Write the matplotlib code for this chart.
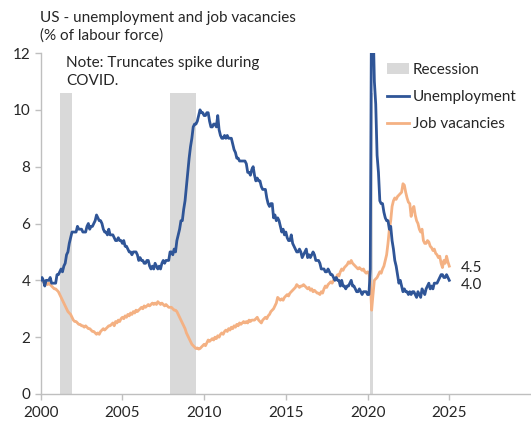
import numpy as np
import matplotlib
matplotlib.use("Agg")
import matplotlib.pyplot as plt
from matplotlib.patches import Patch
from matplotlib.lines import Line2D

plt.rcParams['font.family'] = ['Lato', 'DejaVu Sans']

# monthly data, Jan 2000 - Jan 2025
unemployment = [
    4.0, 4.1, 4.0, 3.8, 4.0, 4.0, 4.0, 4.1, 3.9, 3.9, 3.9, 3.9,   # 2000
    4.2, 4.2, 4.3, 4.4, 4.3, 4.5, 4.6, 4.9, 5.0, 5.3, 5.5, 5.7,   # 2001
    5.7, 5.7, 5.7, 5.9, 5.8, 5.8, 5.8, 5.7, 5.7, 5.7, 5.9, 6.0,   # 2002
    5.8, 5.9, 5.9, 6.0, 6.1, 6.3, 6.2, 6.1, 6.1, 6.0, 5.8, 5.7,   # 2003
    5.7, 5.6, 5.8, 5.6, 5.6, 5.6, 5.5, 5.4, 5.4, 5.5, 5.4, 5.4,   # 2004
    5.3, 5.4, 5.2, 5.2, 5.1, 5.0, 5.0, 4.9, 5.0, 5.0, 5.0, 4.9,   # 2005
    4.7, 4.8, 4.7, 4.7, 4.6, 4.6, 4.7, 4.7, 4.5, 4.4, 4.5, 4.4,   # 2006
    4.6, 4.5, 4.4, 4.5, 4.4, 4.6, 4.7, 4.6, 4.7, 4.7, 4.7, 5.0,   # 2007
    5.0, 4.9, 5.1, 5.0, 5.4, 5.6, 5.8, 6.1, 6.1, 6.5, 6.8, 7.3,   # 2008
    7.8, 8.3, 8.7, 9.0, 9.4, 9.5, 9.5, 9.6, 9.8, 10.0, 9.9, 9.9,  # 2009
    9.8, 9.8, 9.9, 9.9, 9.6, 9.4, 9.4, 9.5, 9.5, 9.4, 9.8, 9.3,   # 2010
    9.1, 9.0, 9.0, 9.1, 9.0, 9.1, 9.0, 9.0, 9.0, 8.8, 8.6, 8.5,   # 2011
    8.3, 8.3, 8.2, 8.2, 8.2, 8.2, 8.2, 8.1, 7.8, 7.8, 7.7, 7.9,   # 2012
    8.0, 7.7, 7.5, 7.6, 7.5, 7.5, 7.3, 7.2, 7.2, 7.2, 6.9, 6.7,   # 2013
    6.6, 6.7, 6.7, 6.2, 6.3, 6.1, 6.2, 6.1, 5.9, 5.7, 5.8, 5.6,   # 2014
    5.7, 5.5, 5.4, 5.4, 5.6, 5.3, 5.2, 5.1, 5.0, 5.0, 5.1, 5.0,   # 2015
    4.8, 4.9, 5.0, 5.1, 4.8, 4.9, 4.8, 4.9, 5.0, 4.9, 4.7, 4.7,   # 2016
    4.7, 4.6, 4.4, 4.4, 4.4, 4.3, 4.3, 4.4, 4.3, 4.2, 4.2, 4.1,   # 2017
    4.0, 4.1, 4.0, 4.0, 3.8, 4.0, 3.8, 3.8, 3.7, 3.8, 3.8, 3.9,   # 2018
    4.0, 3.8, 3.8, 3.7, 3.6, 3.6, 3.7, 3.6, 3.5, 3.6, 3.6, 3.6,   # 2019
    3.5, 3.5, 4.4, 14.8, 13.2, 11.0, 10.2, 8.4, 7.8, 6.8, 6.7, 6.7,  # 2020
    6.4, 6.2, 6.1, 6.1, 5.8, 5.9, 5.4, 5.1, 4.7, 4.5, 4.2, 3.9,   # 2021
    4.0, 3.8, 3.6, 3.7, 3.6, 3.6, 3.5, 3.6, 3.5, 3.6, 3.6, 3.5,   # 2022
    3.4, 3.6, 3.5, 3.4, 3.7, 3.6, 3.5, 3.7, 3.8, 3.9, 3.7, 3.8,   # 2023
    3.7, 3.9, 3.9, 3.9, 4.0, 4.1, 4.2, 4.2, 4.1, 4.1, 4.2, 4.1,   # 2024
    4.0,                                                          # 2025
]

vacancies = [
    4.0, 4.0, 3.95, 3.9, 3.9, 3.85, 3.9, 3.85, 3.8, 3.75, 3.7, 3.7,      # 2000
    3.65, 3.6, 3.5, 3.4, 3.3, 3.2, 3.1, 3.0, 2.9, 2.85, 2.8, 2.7,        # 2001
    2.6, 2.55, 2.55, 2.5, 2.45, 2.45, 2.4, 2.4, 2.35, 2.4, 2.35, 2.3,    # 2002
    2.3, 2.25, 2.2, 2.2, 2.15, 2.1, 2.15, 2.1, 2.2, 2.25, 2.3, 2.25,     # 2003
    2.3, 2.35, 2.4, 2.4, 2.45, 2.5, 2.4, 2.55, 2.5, 2.6, 2.55, 2.65,     # 2004
    2.7, 2.65, 2.75, 2.7, 2.8, 2.75, 2.85, 2.8, 2.9, 2.85, 2.95, 2.9,    # 2005
    2.95, 3.0, 3.05, 3.0, 3.1, 3.05, 3.1, 3.15, 3.1, 3.15, 3.2, 3.15,    # 2006
    3.2, 3.15, 3.25, 3.2, 3.15, 3.2, 3.15, 3.1, 3.15, 3.1, 3.05, 3.05,   # 2007
    3.05, 3.0, 2.95, 2.95, 2.9, 2.8, 2.7, 2.6, 2.5, 2.4, 2.3, 2.15,      # 2008
    2.05, 1.95, 1.85, 1.75, 1.7, 1.65, 1.6, 1.62, 1.58, 1.6, 1.65, 1.7,  # 2009
    1.75, 1.7, 1.8, 1.9, 1.85, 1.9, 1.95, 1.9, 2.0, 1.95, 2.05, 2.0,     # 2010
    2.1, 2.15, 2.1, 2.2, 2.25, 2.2, 2.3, 2.25, 2.35, 2.3, 2.4, 2.35,     # 2011
    2.45, 2.4, 2.5, 2.45, 2.5, 2.55, 2.5, 2.55, 2.5, 2.6, 2.55, 2.6,     # 2012
    2.6, 2.6, 2.65, 2.7, 2.6, 2.55, 2.5, 2.6, 2.65, 2.7, 2.65, 2.75,     # 2013
    2.8, 2.9, 2.95, 3.0, 3.1, 3.2, 3.4, 3.35, 3.3, 3.35, 3.3, 3.4,       # 2014
    3.45, 3.5, 3.45, 3.55, 3.6, 3.65, 3.7, 3.75, 3.85, 3.8, 3.75, 3.8,   # 2015
    3.8, 3.85, 3.8, 3.75, 3.7, 3.75, 3.65, 3.7, 3.6, 3.65, 3.6, 3.55,    # 2016
    3.55, 3.5, 3.6, 3.55, 3.7, 3.8, 3.75, 3.85, 3.9, 3.95, 3.9, 4.0,     # 2017
    4.05, 4.1, 4.2, 4.15, 4.3, 4.4, 4.35, 4.45, 4.5, 4.55, 4.65, 4.6,    # 2018
    4.7, 4.6, 4.55, 4.5, 4.45, 4.4, 4.45, 4.4, 4.35, 4.4, 4.3, 4.25,     # 2019
    4.3, 4.25, 3.95, 2.95, 3.5, 4.0, 4.05, 4.1, 4.2, 4.3, 4.25, 4.4,     # 2020
    4.5, 4.7, 4.9, 5.3, 5.8, 6.1, 6.6, 6.8, 6.9, 6.85, 6.95, 7.0,        # 2021
    7.05, 7.1, 7.4, 7.35, 7.1, 6.9, 6.75, 6.7, 6.25, 6.5, 6.6, 6.3,      # 2022
    6.1, 6.0, 5.8, 5.7, 5.8, 5.4, 5.3, 5.3, 5.4, 5.35, 5.2, 5.15,        # 2023
    5.05, 5.1, 4.95, 4.9, 4.8, 4.85, 4.6, 4.45, 4.7, 4.6, 4.85, 4.65,    # 2024
    4.5,                                                                 # 2025
]

dates = 2000 + np.arange(len(unemployment)) / 12.0

recession_start = [2001.17, 2007.92, 2020.13]
recession_end = [2001.92, 2009.5, 2020.36]
recession_height = 10.6

blue = '#2F5597'
orange = '#F4B183'
grey = '#D9D9D9'
text_col = '#262626'
fs = 11

fig = plt.figure(figsize=(5.31, 4.23), dpi=100)
ax = fig.add_axes([0.0766, 0.0686, 0.9234, 0.806])

for s, e in zip(recession_start, recession_end):
    ax.bar(s, recession_height, width=e - s, align='edge', color=grey, linewidth=0, zorder=1)

ax.plot(dates, vacancies, color=orange, lw=2, zorder=2)
ax.plot(dates, unemployment, color=blue, lw=2, zorder=3)

ax.set_xlim(2000, 2030)
ax.set_ylim(0, 12)
ax.set_xticks(range(2000, 2030, 5))
ax.set_yticks(range(0, 13, 2))

for side in ['top', 'right']:
    ax.spines[side].set_visible(False)
for side in ['left', 'bottom']:
    ax.spines[side].set_color('#BFBFBF')
    ax.spines[side].set_linewidth(1)
ax.tick_params(colors='#BFBFBF', labelcolor=text_col, labelsize=fs, length=4, width=1)
ax.tick_params(axis='x', pad=5)

# end labels
ax.text(2025.7, vacancies[-1] - 0.06, f"{vacancies[-1]:.1f}", fontsize=fs, color=text_col, va='center')
ax.text(2025.7, unemployment[-1] - 0.16, f"{unemployment[-1]:.1f}", fontsize=fs, color=text_col, va='center')

handles = [Patch(facecolor=grey, edgecolor='none'),
           Line2D([0], [0], color=blue, lw=2),
           Line2D([0], [0], color=orange, lw=2)]
ax.legend(handles, ['Recession', 'Unemployment', 'Job vacancies'],
          loc='upper left', bbox_to_anchor=(0.693, 0.99), frameon=False,
          fontsize=fs, handlelength=1.5, handletextpad=0.2, labelspacing=0.87,
          borderaxespad=0, labelcolor=text_col)

fig.text(0.0753, 0.975, "US - unemployment and job vacancies\n(% of labour force)",
         fontsize=fs, color=text_col, va='top', linespacing=1.3)
ax.text(0.052, 0.99, "Note: Truncates spike during\nCOVID.", transform=ax.transAxes,
        fontsize=fs, color=text_col, va='top', linespacing=1.3)

fig.savefig('out.png', dpi=100)
